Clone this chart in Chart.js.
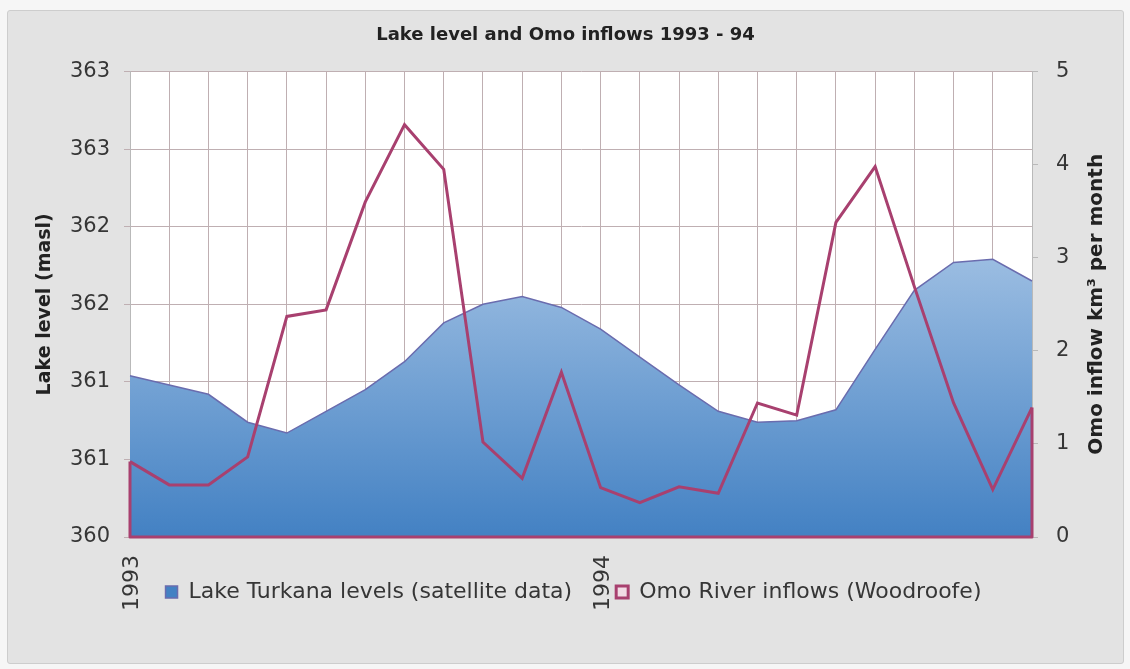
<!DOCTYPE html>
<html>
<head>
<meta charset="utf-8">
<title>Lake level and Omo inflows 1993 - 94</title>
<script src="https://cdn.jsdelivr.net/npm/chart.js@4.4.1/dist/chart.umd.min.js"></script>
<style>
	html, body { margin: 0; padding: 0; background: #f6f6f6; }
	#frame {
		position: absolute;
		left: 7px;
		top: 10px;
		width: 1115px;
		height: 652px;
		background: #e3e3e3;
		border: 1px solid #cdcdcd;
		border-radius: 3px;
	}
</style>
</head>
<body>
<div id="frame"><canvas id="chart"></canvas></div>
<script>
// monthly values, Jan 1993 - Dec 1994
const months = [
	"Jan 1993", "Feb 1993", "Mar 1993", "Apr 1993", "May 1993", "Jun 1993",
	"Jul 1993", "Aug 1993", "Sep 1993", "Oct 1993", "Nov 1993", "Dec 1993",
	"Jan 1994", "Feb 1994", "Mar 1994", "Apr 1994", "May 1994", "Jun 1994",
	"Jul 1994", "Aug 1994", "Sep 1994", "Oct 1994", "Nov 1994", "Dec 1994"
];
const lakeLevel = [
	361.04, 360.98, 360.92, 360.74, 360.67, 360.81,
	360.95, 361.13, 361.38, 361.50, 361.55, 361.48,
	361.34, 361.16, 360.98, 360.81, 360.74, 360.75,
	360.82, 361.21, 361.59, 361.77, 361.79, 361.65
];
const omoInflow = [
	0.81, 0.56, 0.56, 0.86, 2.37, 2.44,
	3.60, 4.43, 3.95, 1.02, 0.63, 1.77,
	0.53, 0.37, 0.54, 0.47, 1.44, 1.31,
	3.38, 3.98, 2.69, 1.44, 0.51, 1.39
];
// excel rounded the half-metre ticks to whole numbers
const levelTickLabels = ["360", "361", "361", "362", "362", "363", "363"];

const gridColor = "#bfafb2";
const omoColor = "#a8406f";
const textColor = "#363636";

Chart.defaults.font.family = "'DejaVu Sans', sans-serif";
Chart.defaults.color = textColor;

function lakeFill(context) {
	const chart = context.chart;
	const area = chart.chartArea;
	if (!area) return "#5b8fcc";
	const g = chart.ctx.createLinearGradient(0, area.top, 0, area.bottom);
	g.addColorStop(0, "#d6e5f6");
	g.addColorStop(1, "#4381c3");
	return g;
}

// white plot background
const plotBackground = {
	id: "plotBackground",
	beforeDraw(chart) {
		const a = chart.chartArea;
		const ctx = chart.ctx;
		ctx.save();
		ctx.fillStyle = "#ffffff";
		ctx.fillRect(a.left, a.top, a.right - a.left, a.bottom - a.top);
		ctx.restore();
	}
};

// the Omo series is an unfilled area: close its outline down to zero
const omoOutline = {
	id: "omoOutline",
	afterDatasetsDraw(chart) {
		const pts = chart.getDatasetMeta(1).data;
		if (!pts.length) return;
		const base = chart.scales.y1.getPixelForValue(0);
		const first = pts[0], last = pts[pts.length - 1];
		const ctx = chart.ctx;
		ctx.save();
		ctx.strokeStyle = omoColor;
		ctx.lineWidth = 3;
		ctx.lineJoin = "round";
		ctx.beginPath();
		ctx.moveTo(first.x, first.y);
		ctx.lineTo(first.x, base);
		ctx.lineTo(last.x, base);
		ctx.lineTo(last.x, last.y);
		ctx.stroke();
		ctx.restore();
	}
};

// right axis title reads bottom to top like the left one
const rightTitle = {
	id: "rightTitle",
	afterDraw(chart) {
		const s = chart.scales.y1;
		const ctx = chart.ctx;
		ctx.save();
		ctx.translate(s.right - 18, (s.top + s.bottom) / 2);
		ctx.rotate(-Math.PI / 2);
		ctx.font = "bold 20px 'DejaVu Sans', sans-serif";
		ctx.fillStyle = "#222222";
		ctx.textAlign = "center";
		ctx.textBaseline = "middle";
		ctx.fillText("Omo inflow km\u00b3 per month", 0, 0);
		ctx.restore();
	}
};

// nudge the legend a little right so "1994" sits between the two entries
const legendShift = {
	id: "legendShift",
	afterLayout(chart) {
		if (!chart.legend) return;
		chart.legend.left += 8;
		chart.legend.right += 8;
	}
};

new Chart(document.getElementById("chart"), {
	type: "line",
	data: {
		labels: months,
		datasets: [
			{
				label: "Lake Turkana levels (satellite data)",
				data: lakeLevel,
				yAxisID: "y",
				order: 1,
				fill: "start",
				backgroundColor: lakeFill,
				borderColor: "#6a6cae",
				borderWidth: 1.5,
				pointRadius: 0,
				tension: 0
			},
			{
				label: "Omo River inflows (Woodroofe)",
				data: omoInflow,
				yAxisID: "y1",
				order: 0,
				fill: false,
				backgroundColor: "#f1dbe5",
				borderColor: omoColor,
				borderWidth: 3,
				pointRadius: 0,
				tension: 0
			}
		]
	},
	options: {
		responsive: true,
		maintainAspectRatio: false,
		animation: false,
		layout: { padding: { left: 8, right: 8, top: 0, bottom: 50 } },
		plugins: {
			tooltip: { enabled: false },
			title: {
				display: true,
				text: "Lake level and Omo inflows 1993 - 94",
				color: "#222222",
				font: { size: 18, weight: "bold" },
				padding: { top: 14, bottom: 25 }
			},
			legend: {
				position: "bottom",
				labels: {
					boxWidth: 12,
					boxHeight: 12,
					padding: 44,
					color: textColor,
					font: { size: 22 },
					sort: (a, b) => a.datasetIndex - b.datasetIndex
				}
			}
		},
		scales: {
			x: {
				grid: { color: gridColor, drawTicks: false },
				border: { color: gridColor },
				ticks: {
					autoSkip: false,
					minRotation: 90,
					maxRotation: 90,
					// mirrored with negative padding: same place below the axis,
					// but not clipped to the (thin) axis box
					mirror: true,
					padding: -18,
					labelOffset: 29,
					font: { size: 22 },
					callback: function(v, i) {
						const m = months[i];
						return m.startsWith("Jan") ? m.slice(4) : "";
					}
				},
				afterFit: function(scale) { scale.height = 0; }
			},
			y: {
				position: "left",
				min: 360,
				max: 363,
				grid: { color: gridColor, tickLength: 6 },
				border: { color: "#b9b9b9" },
				ticks: {
					stepSize: 0.5,
					padding: 14,
					font: { size: 21 },
					callback: (v, i) => levelTickLabels[i]
				},
				title: {
					display: true,
					text: "Lake level (masl)",
					color: "#222222",
					font: { size: 19, weight: "bold" },
					padding: { top: 18, bottom: 0 }
				},
				afterFit: function(scale) { scale.width = 114; }
			},
			y1: {
				position: "right",
				min: 0,
				max: 5,
				grid: { drawOnChartArea: false, color: "#b9b9b9", tickLength: 6 },
				border: { color: "#b9b9b9" },
				ticks: {
					stepSize: 1,
					padding: 18,
					font: { size: 21 }
				},
				afterFit: function(scale) { scale.width = 83; }
			}
		}
	},
	plugins: [plotBackground, omoOutline, rightTitle, legendShift]
});
</script>
</body>
</html>
